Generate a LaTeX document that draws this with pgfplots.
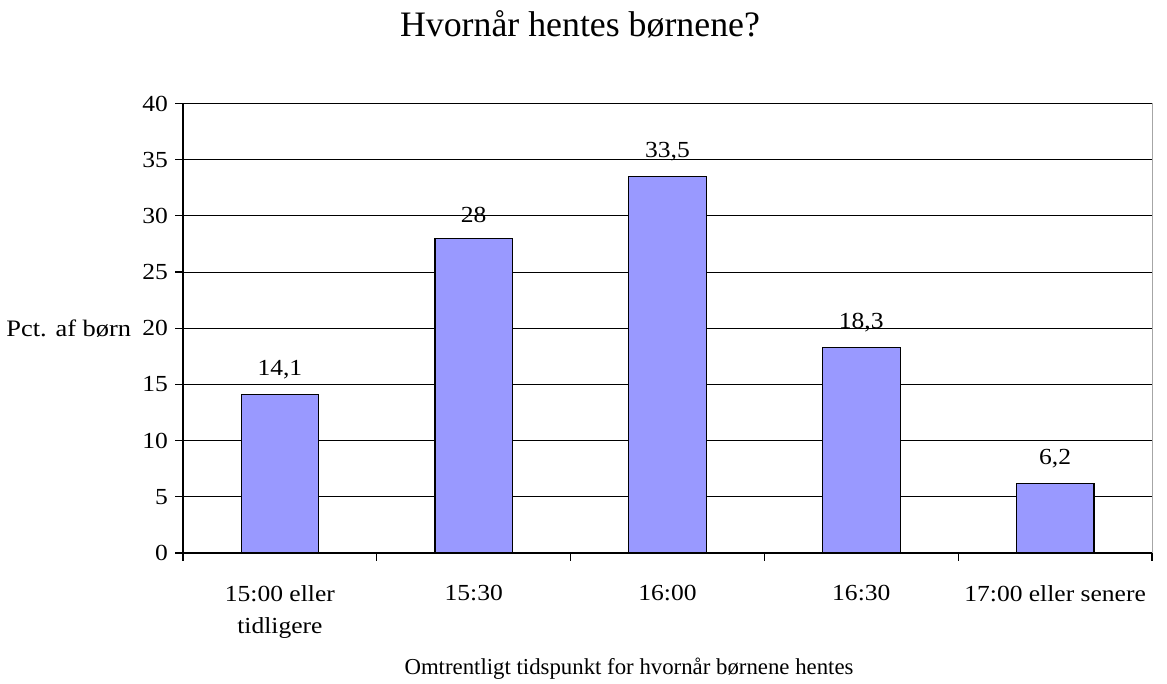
\documentclass[border=0pt]{standalone}
\usepackage{fontspec}
\setmainfont{Liberation Serif}
\newfontfamily\wideserif[FakeStretch=1.11]{Liberation Serif}
\newfontfamily\widerserif[FakeStretch=1.12]{Liberation Serif}
\usepackage{pgfplots}
\pgfplotsset{compat=1.18}
\definecolor{barblue}{HTML}{9999FF}
\newcommand{\tf}{\wideserif\fontsize{11.5}{16}\selectfont}
\begin{document}
\begin{tikzpicture}
\useasboundingbox (0,0) rectangle (583.5pt,342pt);
\begin{axis}[
  at={(91.5pt,65.5pt)}, anchor=south west,
  scale only axis, width=484.5pt, height=224.75pt,
  xmin=0, xmax=5, ymin=0, ymax=40,
  axis x line=bottom, axis y line=left,
  axis line style={-, black, line width=0.6pt},
  tick align=outside,
  ytick={0,5,...,40},
  ymajorgrids, grid style={black, line width=0.5pt},
  major tick length=4pt, minor tick length=4pt,
  tick style={black, line width=0.6pt},
  xtick={0.5,1.5,2.5,3.5,4.5},
  xticklabels={{15:00 eller\\tidligere},{15:30},{16:00},{16:30},{17:00 eller senere}},
  x tick style={draw=none},
  minor xtick={0,1,2,3,4,5},
  minor x tick style={draw=black, line width=0.6pt},
  xticklabel style={align=center, font=\tf, yshift=-8.8pt},
  yticklabel style={font=\tf},
  /pgf/number format/assume math mode=true,
  /pgf/number format/use comma,
  nodes near coords,
  nodes near coords style={font=\tf, anchor=south, yshift=4pt,
    /pgf/number format/use comma, /pgf/number format/assume math mode=true},
  clip=false,
]
\addplot[ybar, bar width=38.8pt, fill=barblue, draw=black, line width=0.6pt]
  coordinates {(0.5,14.1) (1.5,28) (2.5,33.5) (3.5,18.3) (4.5,6.2)};
\draw[gray!70, line width=0.5pt] (rel axis cs:1,0) -- (rel axis cs:1,1);
\end{axis}
\node[anchor=base, font=\fontsize{17.9}{20}\selectfont] at (290pt,323.5pt) {Hvornår hentes børnene?};
\node[anchor=base, font=\fontsize{11.4}{16}\selectfont] at (314.5pt,4.5pt) {Omtrentligt tidspunkt for hvornår børnene hentes};
\node[anchor=base east, inner sep=0pt, font=\widerserif\fontsize{11.8}{16}\selectfont] at (65.8pt,173.7pt) {Pct. af børn};
\end{tikzpicture}
\end{document}
